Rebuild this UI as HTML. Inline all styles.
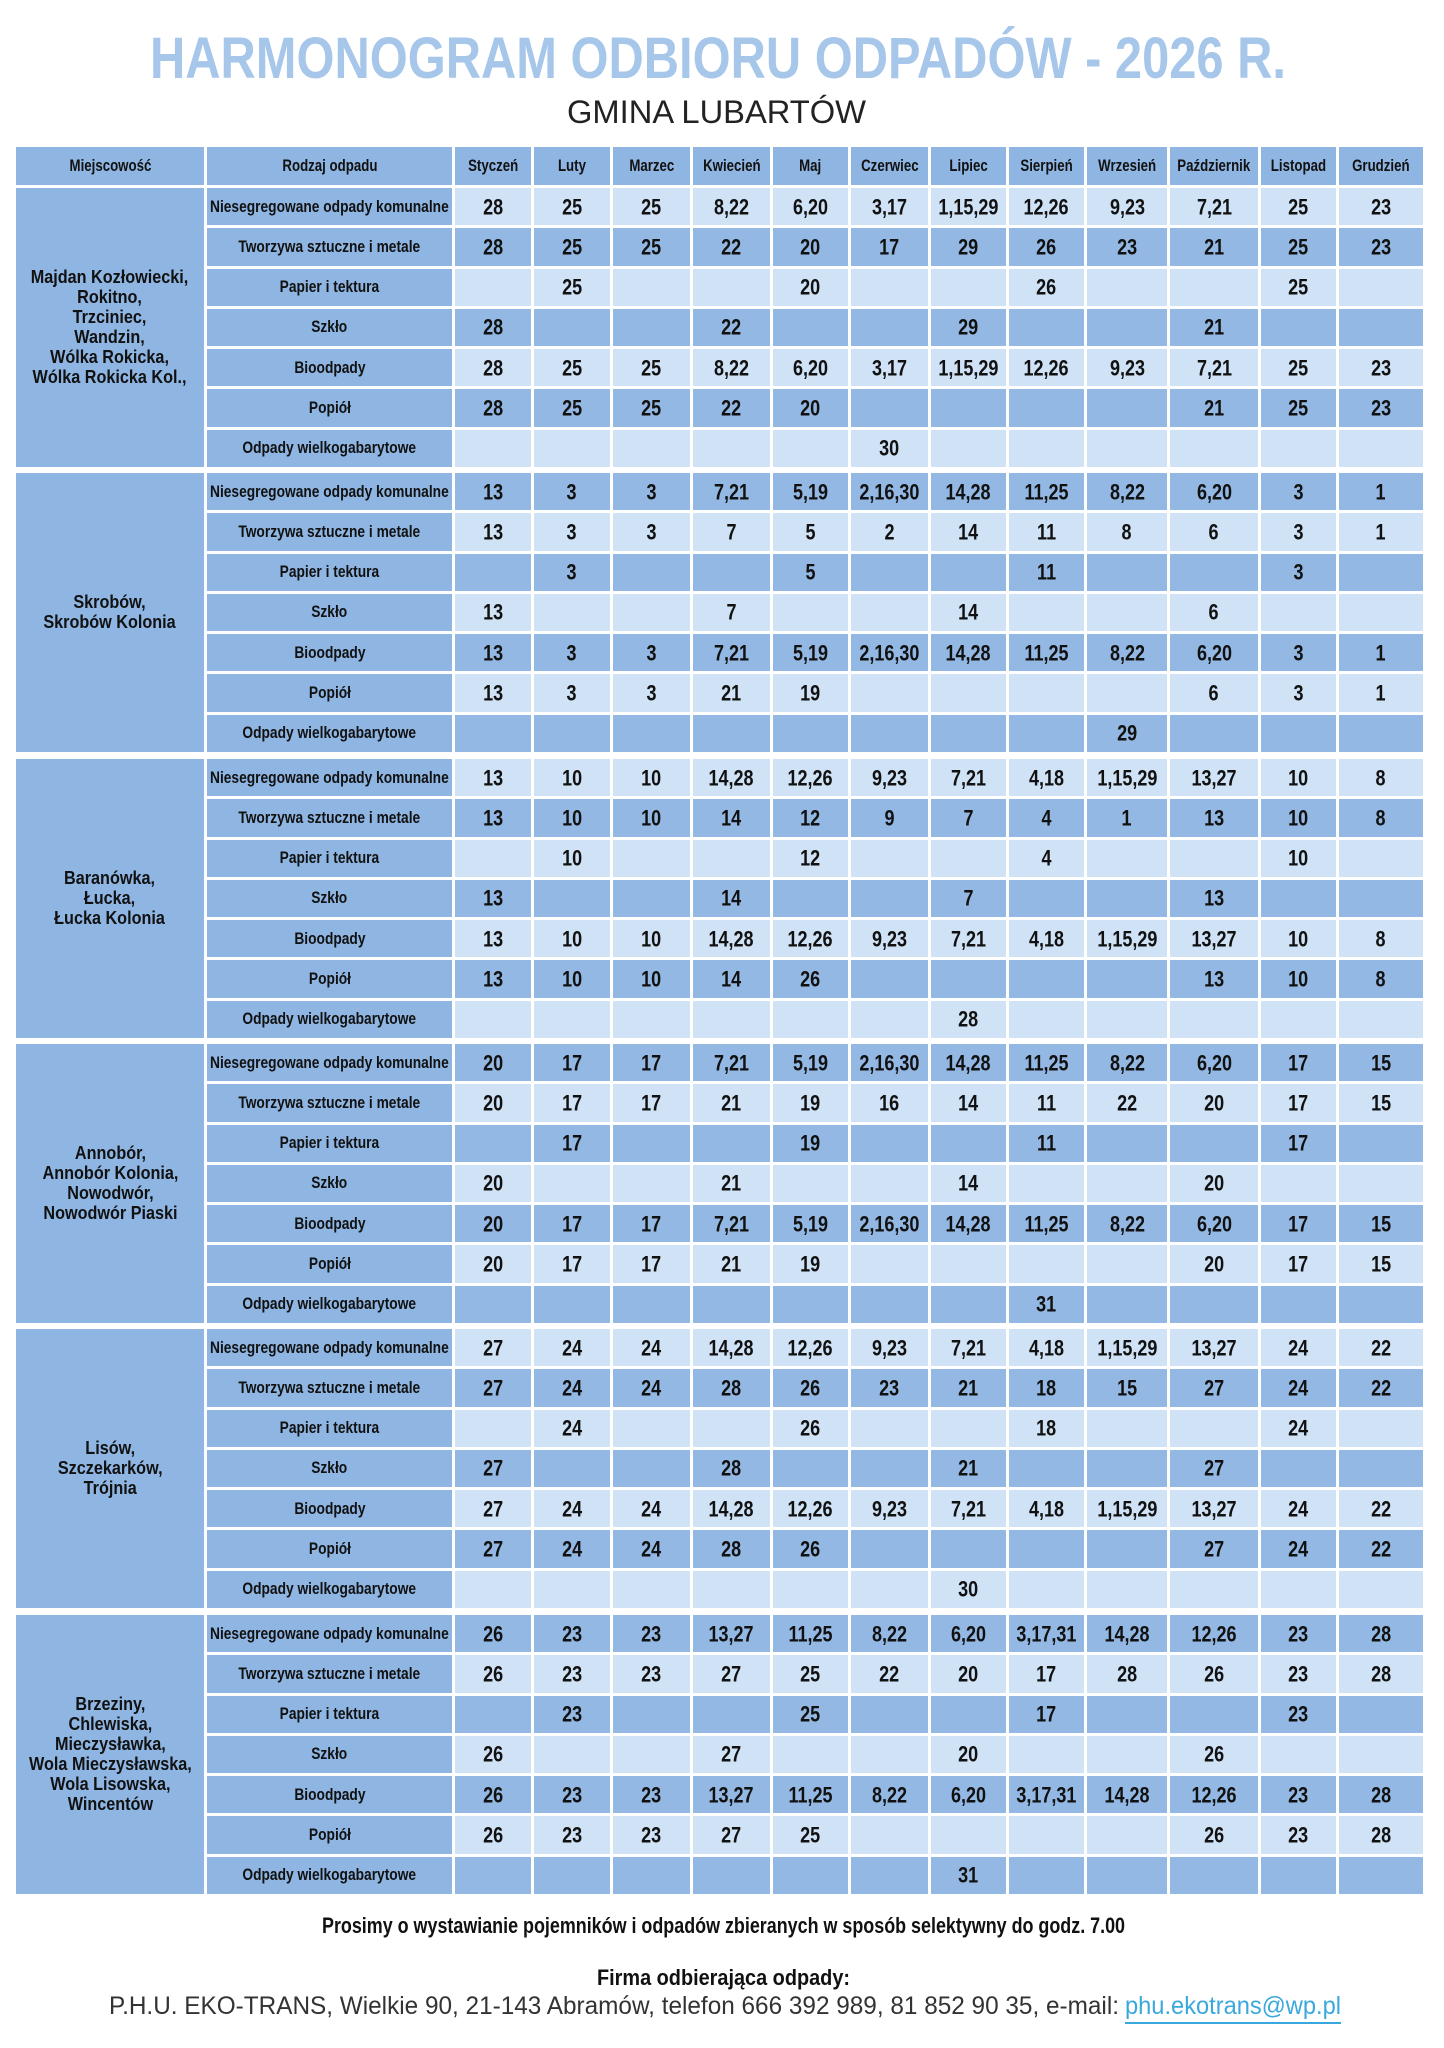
<!DOCTYPE html>
<html><head><meta charset="utf-8">
<style>
*{margin:0;padding:0;box-sizing:border-box}
body{width:1444px;height:2048px;background:#fff;position:relative;overflow:hidden;font-family:"Liberation Sans",sans-serif;color:#111}
.g{position:absolute;left:16px;width:1407px;display:grid;grid-template-columns:188px 245px 76px 76px 77px 77px 75px 77px 75px 75px 80px 88px 75px 84px;column-gap:3px;row-gap:3px}
.grp{height:279px;grid-template-rows:repeat(7,1fr)}
.hdr{top:147px;height:38px}
.g>div{display:flex;align-items:center;justify-content:center;font-weight:bold;white-space:nowrap;overflow:visible}
.g>div span{display:inline-block;transform:scaleX(.8)}
.h{background:#8fb5e2;font-size:17px}
.h span{transform:scaleX(.78)!important}
.loc{background:#8fb6e3;grid-row:1/8;font-size:18px;text-align:center;line-height:20px}
.loc span{transform:scaleX(.9)!important}
.k{background:#8fb6e3;font-size:17px}
.k span{transform:scaleX(.81)!important}
.l{background:#cfe2f6;font-size:20px}
.d{background:#93b8e3;font-size:20px}
.l span,.d span{transform:scaleX(.9) scaleY(1.1)!important;padding-top:3px}
svg{position:absolute;left:0;top:0}
</style></head><body>
<svg width="1444" height="2048">
<text x="150" y="78" textLength="1136" lengthAdjust="spacingAndGlyphs" font-family="Liberation Sans" font-weight="bold" font-size="58" fill="#a6c6ea">HARMONOGRAM ODBIORU ODPADÓW - 2026 R.</text>
<text x="567" y="123" textLength="299" lengthAdjust="spacingAndGlyphs" font-family="Liberation Sans" font-size="32" fill="#222">GMINA LUBARTÓW</text>
<text x="322" y="1933" textLength="803" lengthAdjust="spacingAndGlyphs" font-family="Liberation Sans" font-weight="bold" font-size="22" fill="#111">Prosimy o wystawianie pojemników i odpadów zbieranych w sposób selektywny do godz. 7.00</text>
<text x="597" y="1985" textLength="253" lengthAdjust="spacingAndGlyphs" font-family="Liberation Sans" font-weight="bold" font-size="22" fill="#111">Firma odbierająca odpady:</text>
<text x="109" y="2014" textLength="1010" lengthAdjust="spacingAndGlyphs" font-family="Liberation Sans" font-size="25" fill="#333">P.H.U. EKO-TRANS, Wielkie 90, 21-143 Abramów, telefon 666 392 989, 81 852 90 35, e-mail:</text>
<text x="1125" y="2014" textLength="216" lengthAdjust="spacingAndGlyphs" font-family="Liberation Sans" font-size="25" fill="#3aa8dc">phu.ekotrans@wp.pl</text>
<line x1="1125" y1="2023" x2="1341" y2="2023" stroke="#3aa8dc" stroke-width="2"/>
</svg>

<div class="g hdr">
<div class="h"><span>Miejscowość</span></div><div class="h"><span>Rodzaj odpadu</span></div><div class="h"><span>Styczeń</span></div><div class="h"><span>Luty</span></div><div class="h"><span>Marzec</span></div><div class="h"><span>Kwiecień</span></div><div class="h"><span>Maj</span></div><div class="h"><span>Czerwiec</span></div><div class="h"><span>Lipiec</span></div><div class="h"><span>Sierpień</span></div><div class="h"><span>Wrzesień</span></div><div class="h"><span>Październik</span></div><div class="h"><span>Listopad</span></div><div class="h"><span>Grudzień</span></div>
</div>

<!-- Group 1 -->
<div class="g grp" style="top:188px">
<div class="loc"><span>Majdan Kozłowiecki,<br>Rokitno,<br>Trzciniec,<br>Wandzin,<br>Wólka Rokicka,<br>Wólka Rokicka Kol.,</span></div>
<div class="k"><span>Niesegregowane odpady komunalne</span></div><div class="l"><span>28</span></div><div class="l"><span>25</span></div><div class="l"><span>25</span></div><div class="l"><span>8,22</span></div><div class="l"><span>6,20</span></div><div class="l"><span>3,17</span></div><div class="l"><span>1,15,29</span></div><div class="l"><span>12,26</span></div><div class="l"><span>9,23</span></div><div class="l"><span>7,21</span></div><div class="l"><span>25</span></div><div class="l"><span>23</span></div>
<div class="k"><span>Tworzywa sztuczne i metale</span></div><div class="d"><span>28</span></div><div class="d"><span>25</span></div><div class="d"><span>25</span></div><div class="d"><span>22</span></div><div class="d"><span>20</span></div><div class="d"><span>17</span></div><div class="d"><span>29</span></div><div class="d"><span>26</span></div><div class="d"><span>23</span></div><div class="d"><span>21</span></div><div class="d"><span>25</span></div><div class="d"><span>23</span></div>
<div class="k"><span>Papier i tektura</span></div><div class="l"></div><div class="l"><span>25</span></div><div class="l"></div><div class="l"></div><div class="l"><span>20</span></div><div class="l"></div><div class="l"></div><div class="l"><span>26</span></div><div class="l"></div><div class="l"></div><div class="l"><span>25</span></div><div class="l"></div>
<div class="k"><span>Szkło</span></div><div class="d"><span>28</span></div><div class="d"></div><div class="d"></div><div class="d"><span>22</span></div><div class="d"></div><div class="d"></div><div class="d"><span>29</span></div><div class="d"></div><div class="d"></div><div class="d"><span>21</span></div><div class="d"></div><div class="d"></div>
<div class="k"><span>Bioodpady</span></div><div class="l"><span>28</span></div><div class="l"><span>25</span></div><div class="l"><span>25</span></div><div class="l"><span>8,22</span></div><div class="l"><span>6,20</span></div><div class="l"><span>3,17</span></div><div class="l"><span>1,15,29</span></div><div class="l"><span>12,26</span></div><div class="l"><span>9,23</span></div><div class="l"><span>7,21</span></div><div class="l"><span>25</span></div><div class="l"><span>23</span></div>
<div class="k"><span>Popiół</span></div><div class="d"><span>28</span></div><div class="d"><span>25</span></div><div class="d"><span>25</span></div><div class="d"><span>22</span></div><div class="d"><span>20</span></div><div class="d"></div><div class="d"></div><div class="d"></div><div class="d"></div><div class="d"><span>21</span></div><div class="d"><span>25</span></div><div class="d"><span>23</span></div>
<div class="k"><span>Odpady wielkogabarytowe</span></div><div class="l"></div><div class="l"></div><div class="l"></div><div class="l"></div><div class="l"></div><div class="l"><span>30</span></div><div class="l"></div><div class="l"></div><div class="l"></div><div class="l"></div><div class="l"></div><div class="l"></div>
</div>

<!-- Group 2 -->
<div class="g grp" style="top:473px">
<div class="loc"><span>Skrobów,<br>Skrobów Kolonia</span></div>
<div class="k"><span>Niesegregowane odpady komunalne</span></div><div class="d"><span>13</span></div><div class="d"><span>3</span></div><div class="d"><span>3</span></div><div class="d"><span>7,21</span></div><div class="d"><span>5,19</span></div><div class="d"><span>2,16,30</span></div><div class="d"><span>14,28</span></div><div class="d"><span>11,25</span></div><div class="d"><span>8,22</span></div><div class="d"><span>6,20</span></div><div class="d"><span>3</span></div><div class="d"><span>1</span></div>
<div class="k"><span>Tworzywa sztuczne i metale</span></div><div class="l"><span>13</span></div><div class="l"><span>3</span></div><div class="l"><span>3</span></div><div class="l"><span>7</span></div><div class="l"><span>5</span></div><div class="l"><span>2</span></div><div class="l"><span>14</span></div><div class="l"><span>11</span></div><div class="l"><span>8</span></div><div class="l"><span>6</span></div><div class="l"><span>3</span></div><div class="l"><span>1</span></div>
<div class="k"><span>Papier i tektura</span></div><div class="d"></div><div class="d"><span>3</span></div><div class="d"></div><div class="d"></div><div class="d"><span>5</span></div><div class="d"></div><div class="d"></div><div class="d"><span>11</span></div><div class="d"></div><div class="d"></div><div class="d"><span>3</span></div><div class="d"></div>
<div class="k"><span>Szkło</span></div><div class="l"><span>13</span></div><div class="l"></div><div class="l"></div><div class="l"><span>7</span></div><div class="l"></div><div class="l"></div><div class="l"><span>14</span></div><div class="l"></div><div class="l"></div><div class="l"><span>6</span></div><div class="l"></div><div class="l"></div>
<div class="k"><span>Bioodpady</span></div><div class="d"><span>13</span></div><div class="d"><span>3</span></div><div class="d"><span>3</span></div><div class="d"><span>7,21</span></div><div class="d"><span>5,19</span></div><div class="d"><span>2,16,30</span></div><div class="d"><span>14,28</span></div><div class="d"><span>11,25</span></div><div class="d"><span>8,22</span></div><div class="d"><span>6,20</span></div><div class="d"><span>3</span></div><div class="d"><span>1</span></div>
<div class="k"><span>Popiół</span></div><div class="l"><span>13</span></div><div class="l"><span>3</span></div><div class="l"><span>3</span></div><div class="l"><span>21</span></div><div class="l"><span>19</span></div><div class="l"></div><div class="l"></div><div class="l"></div><div class="l"></div><div class="l"><span>6</span></div><div class="l"><span>3</span></div><div class="l"><span>1</span></div>
<div class="k"><span>Odpady wielkogabarytowe</span></div><div class="d"></div><div class="d"></div><div class="d"></div><div class="d"></div><div class="d"></div><div class="d"></div><div class="d"></div><div class="d"></div><div class="d"><span>29</span></div><div class="d"></div><div class="d"></div><div class="d"></div>
</div>

<!-- Group 3 -->
<div class="g grp" style="top:759px">
<div class="loc"><span>Baranówka,<br>Łucka,<br>Łucka Kolonia</span></div>
<div class="k"><span>Niesegregowane odpady komunalne</span></div><div class="l"><span>13</span></div><div class="l"><span>10</span></div><div class="l"><span>10</span></div><div class="l"><span>14,28</span></div><div class="l"><span>12,26</span></div><div class="l"><span>9,23</span></div><div class="l"><span>7,21</span></div><div class="l"><span>4,18</span></div><div class="l"><span>1,15,29</span></div><div class="l"><span>13,27</span></div><div class="l"><span>10</span></div><div class="l"><span>8</span></div>
<div class="k"><span>Tworzywa sztuczne i metale</span></div><div class="d"><span>13</span></div><div class="d"><span>10</span></div><div class="d"><span>10</span></div><div class="d"><span>14</span></div><div class="d"><span>12</span></div><div class="d"><span>9</span></div><div class="d"><span>7</span></div><div class="d"><span>4</span></div><div class="d"><span>1</span></div><div class="d"><span>13</span></div><div class="d"><span>10</span></div><div class="d"><span>8</span></div>
<div class="k"><span>Papier i tektura</span></div><div class="l"></div><div class="l"><span>10</span></div><div class="l"></div><div class="l"></div><div class="l"><span>12</span></div><div class="l"></div><div class="l"></div><div class="l"><span>4</span></div><div class="l"></div><div class="l"></div><div class="l"><span>10</span></div><div class="l"></div>
<div class="k"><span>Szkło</span></div><div class="d"><span>13</span></div><div class="d"></div><div class="d"></div><div class="d"><span>14</span></div><div class="d"></div><div class="d"></div><div class="d"><span>7</span></div><div class="d"></div><div class="d"></div><div class="d"><span>13</span></div><div class="d"></div><div class="d"></div>
<div class="k"><span>Bioodpady</span></div><div class="l"><span>13</span></div><div class="l"><span>10</span></div><div class="l"><span>10</span></div><div class="l"><span>14,28</span></div><div class="l"><span>12,26</span></div><div class="l"><span>9,23</span></div><div class="l"><span>7,21</span></div><div class="l"><span>4,18</span></div><div class="l"><span>1,15,29</span></div><div class="l"><span>13,27</span></div><div class="l"><span>10</span></div><div class="l"><span>8</span></div>
<div class="k"><span>Popiół</span></div><div class="d"><span>13</span></div><div class="d"><span>10</span></div><div class="d"><span>10</span></div><div class="d"><span>14</span></div><div class="d"><span>26</span></div><div class="d"></div><div class="d"></div><div class="d"></div><div class="d"></div><div class="d"><span>13</span></div><div class="d"><span>10</span></div><div class="d"><span>8</span></div>
<div class="k"><span>Odpady wielkogabarytowe</span></div><div class="l"></div><div class="l"></div><div class="l"></div><div class="l"></div><div class="l"></div><div class="l"></div><div class="l"><span>28</span></div><div class="l"></div><div class="l"></div><div class="l"></div><div class="l"></div><div class="l"></div>
</div>

<!-- Group 4 -->
<div class="g grp" style="top:1044px">
<div class="loc"><span>Annobór,<br>Annobór Kolonia,<br>Nowodwór,<br>Nowodwór Piaski</span></div>
<div class="k"><span>Niesegregowane odpady komunalne</span></div><div class="d"><span>20</span></div><div class="d"><span>17</span></div><div class="d"><span>17</span></div><div class="d"><span>7,21</span></div><div class="d"><span>5,19</span></div><div class="d"><span>2,16,30</span></div><div class="d"><span>14,28</span></div><div class="d"><span>11,25</span></div><div class="d"><span>8,22</span></div><div class="d"><span>6,20</span></div><div class="d"><span>17</span></div><div class="d"><span>15</span></div>
<div class="k"><span>Tworzywa sztuczne i metale</span></div><div class="l"><span>20</span></div><div class="l"><span>17</span></div><div class="l"><span>17</span></div><div class="l"><span>21</span></div><div class="l"><span>19</span></div><div class="l"><span>16</span></div><div class="l"><span>14</span></div><div class="l"><span>11</span></div><div class="l"><span>22</span></div><div class="l"><span>20</span></div><div class="l"><span>17</span></div><div class="l"><span>15</span></div>
<div class="k"><span>Papier i tektura</span></div><div class="d"></div><div class="d"><span>17</span></div><div class="d"></div><div class="d"></div><div class="d"><span>19</span></div><div class="d"></div><div class="d"></div><div class="d"><span>11</span></div><div class="d"></div><div class="d"></div><div class="d"><span>17</span></div><div class="d"></div>
<div class="k"><span>Szkło</span></div><div class="l"><span>20</span></div><div class="l"></div><div class="l"></div><div class="l"><span>21</span></div><div class="l"></div><div class="l"></div><div class="l"><span>14</span></div><div class="l"></div><div class="l"></div><div class="l"><span>20</span></div><div class="l"></div><div class="l"></div>
<div class="k"><span>Bioodpady</span></div><div class="d"><span>20</span></div><div class="d"><span>17</span></div><div class="d"><span>17</span></div><div class="d"><span>7,21</span></div><div class="d"><span>5,19</span></div><div class="d"><span>2,16,30</span></div><div class="d"><span>14,28</span></div><div class="d"><span>11,25</span></div><div class="d"><span>8,22</span></div><div class="d"><span>6,20</span></div><div class="d"><span>17</span></div><div class="d"><span>15</span></div>
<div class="k"><span>Popiół</span></div><div class="l"><span>20</span></div><div class="l"><span>17</span></div><div class="l"><span>17</span></div><div class="l"><span>21</span></div><div class="l"><span>19</span></div><div class="l"></div><div class="l"></div><div class="l"></div><div class="l"></div><div class="l"><span>20</span></div><div class="l"><span>17</span></div><div class="l"><span>15</span></div>
<div class="k"><span>Odpady wielkogabarytowe</span></div><div class="d"></div><div class="d"></div><div class="d"></div><div class="d"></div><div class="d"></div><div class="d"></div><div class="d"></div><div class="d"><span>31</span></div><div class="d"></div><div class="d"></div><div class="d"></div><div class="d"></div>
</div>

<!-- Group 5 -->
<div class="g grp" style="top:1329px">
<div class="loc"><span>Lisów,<br>Szczekarków,<br>Trójnia</span></div>
<div class="k"><span>Niesegregowane odpady komunalne</span></div><div class="l"><span>27</span></div><div class="l"><span>24</span></div><div class="l"><span>24</span></div><div class="l"><span>14,28</span></div><div class="l"><span>12,26</span></div><div class="l"><span>9,23</span></div><div class="l"><span>7,21</span></div><div class="l"><span>4,18</span></div><div class="l"><span>1,15,29</span></div><div class="l"><span>13,27</span></div><div class="l"><span>24</span></div><div class="l"><span>22</span></div>
<div class="k"><span>Tworzywa sztuczne i metale</span></div><div class="d"><span>27</span></div><div class="d"><span>24</span></div><div class="d"><span>24</span></div><div class="d"><span>28</span></div><div class="d"><span>26</span></div><div class="d"><span>23</span></div><div class="d"><span>21</span></div><div class="d"><span>18</span></div><div class="d"><span>15</span></div><div class="d"><span>27</span></div><div class="d"><span>24</span></div><div class="d"><span>22</span></div>
<div class="k"><span>Papier i tektura</span></div><div class="l"></div><div class="l"><span>24</span></div><div class="l"></div><div class="l"></div><div class="l"><span>26</span></div><div class="l"></div><div class="l"></div><div class="l"><span>18</span></div><div class="l"></div><div class="l"></div><div class="l"><span>24</span></div><div class="l"></div>
<div class="k"><span>Szkło</span></div><div class="d"><span>27</span></div><div class="d"></div><div class="d"></div><div class="d"><span>28</span></div><div class="d"></div><div class="d"></div><div class="d"><span>21</span></div><div class="d"></div><div class="d"></div><div class="d"><span>27</span></div><div class="d"></div><div class="d"></div>
<div class="k"><span>Bioodpady</span></div><div class="l"><span>27</span></div><div class="l"><span>24</span></div><div class="l"><span>24</span></div><div class="l"><span>14,28</span></div><div class="l"><span>12,26</span></div><div class="l"><span>9,23</span></div><div class="l"><span>7,21</span></div><div class="l"><span>4,18</span></div><div class="l"><span>1,15,29</span></div><div class="l"><span>13,27</span></div><div class="l"><span>24</span></div><div class="l"><span>22</span></div>
<div class="k"><span>Popiół</span></div><div class="d"><span>27</span></div><div class="d"><span>24</span></div><div class="d"><span>24</span></div><div class="d"><span>28</span></div><div class="d"><span>26</span></div><div class="d"></div><div class="d"></div><div class="d"></div><div class="d"></div><div class="d"><span>27</span></div><div class="d"><span>24</span></div><div class="d"><span>22</span></div>
<div class="k"><span>Odpady wielkogabarytowe</span></div><div class="l"></div><div class="l"></div><div class="l"></div><div class="l"></div><div class="l"></div><div class="l"></div><div class="l"><span>30</span></div><div class="l"></div><div class="l"></div><div class="l"></div><div class="l"></div><div class="l"></div>
</div>

<!-- Group 6 -->
<div class="g grp" style="top:1615px">
<div class="loc"><span>Brzeziny,<br>Chlewiska,<br>Mieczysławka,<br>Wola Mieczysławska,<br>Wola Lisowska,<br>Wincentów</span></div>
<div class="k"><span>Niesegregowane odpady komunalne</span></div><div class="d"><span>26</span></div><div class="d"><span>23</span></div><div class="d"><span>23</span></div><div class="d"><span>13,27</span></div><div class="d"><span>11,25</span></div><div class="d"><span>8,22</span></div><div class="d"><span>6,20</span></div><div class="d"><span>3,17,31</span></div><div class="d"><span>14,28</span></div><div class="d"><span>12,26</span></div><div class="d"><span>23</span></div><div class="d"><span>28</span></div>
<div class="k"><span>Tworzywa sztuczne i metale</span></div><div class="l"><span>26</span></div><div class="l"><span>23</span></div><div class="l"><span>23</span></div><div class="l"><span>27</span></div><div class="l"><span>25</span></div><div class="l"><span>22</span></div><div class="l"><span>20</span></div><div class="l"><span>17</span></div><div class="l"><span>28</span></div><div class="l"><span>26</span></div><div class="l"><span>23</span></div><div class="l"><span>28</span></div>
<div class="k"><span>Papier i tektura</span></div><div class="d"></div><div class="d"><span>23</span></div><div class="d"></div><div class="d"></div><div class="d"><span>25</span></div><div class="d"></div><div class="d"></div><div class="d"><span>17</span></div><div class="d"></div><div class="d"></div><div class="d"><span>23</span></div><div class="d"></div>
<div class="k"><span>Szkło</span></div><div class="l"><span>26</span></div><div class="l"></div><div class="l"></div><div class="l"><span>27</span></div><div class="l"></div><div class="l"></div><div class="l"><span>20</span></div><div class="l"></div><div class="l"></div><div class="l"><span>26</span></div><div class="l"></div><div class="l"></div>
<div class="k"><span>Bioodpady</span></div><div class="d"><span>26</span></div><div class="d"><span>23</span></div><div class="d"><span>23</span></div><div class="d"><span>13,27</span></div><div class="d"><span>11,25</span></div><div class="d"><span>8,22</span></div><div class="d"><span>6,20</span></div><div class="d"><span>3,17,31</span></div><div class="d"><span>14,28</span></div><div class="d"><span>12,26</span></div><div class="d"><span>23</span></div><div class="d"><span>28</span></div>
<div class="k"><span>Popiół</span></div><div class="l"><span>26</span></div><div class="l"><span>23</span></div><div class="l"><span>23</span></div><div class="l"><span>27</span></div><div class="l"><span>25</span></div><div class="l"></div><div class="l"></div><div class="l"></div><div class="l"></div><div class="l"><span>26</span></div><div class="l"><span>23</span></div><div class="l"><span>28</span></div>
<div class="k"><span>Odpady wielkogabarytowe</span></div><div class="d"></div><div class="d"></div><div class="d"></div><div class="d"></div><div class="d"></div><div class="d"></div><div class="d"><span>31</span></div><div class="d"></div><div class="d"></div><div class="d"></div><div class="d"></div><div class="d"></div>
</div>
</body></html>
